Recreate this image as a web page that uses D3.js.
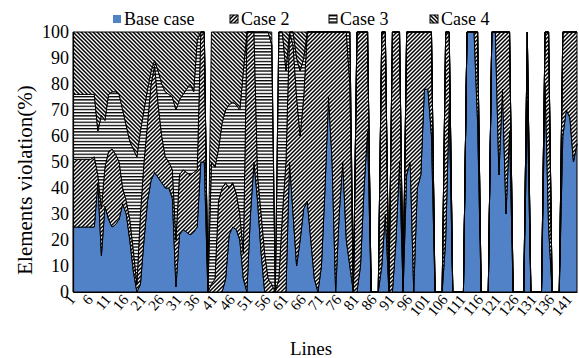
<!DOCTYPE html>
<html>
<head>
<meta charset="utf-8">
<script src="https://cdn.jsdelivr.net/npm/d3@7/dist/d3.min.js"></script>
<style>
  body { margin: 0; background: #fff; }
</style>
</head>
<body>
<div id="chart"></div>
<script>
// line numbers on the x axis
const lines = d3.range(1, 144)

const tickLines = [1, 6, 11, 16, 21, 26, 31, 36, 41, 46, 51, 56, 61, 66, 71, 76, 81, 86, 91, 96, 101, 106, 111, 116, 121, 126, 131, 136, 141]
const yTicks = [0, 10, 20, 30, 40, 50, 60, 70, 80, 90, 100]

const seriesNames = ["Base case", "Case 2", "Case 3", "Case 4"]

// share of violated elements per line (%)
const baseCase = [
  25, 25, 25, 25, 25, 25, 25, 42, 14, 33,
  28, 25, 26, 28, 34, 30, 20, 8, 0, 3,
  20, 35, 43, 46, 44, 42, 40, 40, 36, 2,
  22, 24, 23, 22, 23, 25, 50, 50, 0, 0,
  0, 0, 0, 5, 22, 25, 24, 20, 5, 0,
  30, 50, 35, 15, 0, 0, 0, 0, 0, 0,
  0, 50, 30, 10, 20, 32, 35, 20, 5, 0,
  10, 40, 75, 50, 0, 30, 50, 20, 10, 0,
  0, 10, 40, 62, 0, 0, 0, 10, 30, 0,
  0, 20, 50, 0, 45, 50, 0, 40, 45, 78,
  78, 60, 0, 0, 0, 20, 72, 0, 0, 0,
  0, 100, 100, 100, 65, 0, 0, 0, 100, 100,
  45, 78, 30, 62, 0, 0, 0, 0, 73, 0,
  0, 0, 0, 80, 25, 0, 0, 0, 60, 70,
  67, 50, 57
]

const case2 = [
  26, 26, 26, 26, 26, 26, 27, 3, 18, 15,
  26, 30, 27, 22, 6, 5, 8, 8, 3, 27,
  30, 30, 37, 41, 28, 18, 12, 10, 11, 18,
  23, 23, 23, 23, 23, 22, 50, 50, 0, 3,
  5, 35, 40, 37, 18, 17, 14, 10, 10, 100,
  70, 50, 10, 15, 15, 5, 3, 0, 5, 30,
  50, 50, 65, 65, 40, 43, 65, 80, 95, 100,
  90, 60, 25, 50, 100, 70, 50, 80, 70, 0,
  100, 90, 60, 38, 0, 0, 0, 90, 70, 0,
  100, 80, 50, 0, 55, 50, 100, 60, 55, 22,
  22, 40, 0, 0, 0, 80, 28, 0, 0, 0,
  0, 0, 0, 0, 35, 0, 0, 0, 0, 0,
  55, 22, 70, 38, 0, 0, 0, 0, 27, 0,
  0, 0, 0, 20, 75, 0, 0, 0, 40, 30,
  33, 50, 43
]

const case3 = [
  25, 25, 25, 25, 25, 25, 24, 17, 36, 18,
  22, 22, 24, 26, 30, 29, 30, 39, 49, 32,
  20, 13, 5, 2, 13, 20, 25, 26, 28, 50,
  29, 29, 32, 35, 31, 50, 0, 0, 0, 47,
  43, 20, 25, 28, 32, 31, 34, 40, 70, 0,
  0, 0, 55, 70, 85, 95, 92, 0, 95, 70,
  35, 0, 5, 15, 25, 15, 0, 0, 0, 0,
  0, 0, 0, 0, 0, 0, 0, 0, 20, 0,
  0, 0, 0, 0, 0, 0, 0, 0, 0, 0,
  0, 0, 0, 0, 0, 0, 0, 0, 0, 0,
  0, 0, 0, 0, 0, 0, 0, 0, 0, 0,
  0, 0, 0, 0, 0, 0, 0, 0, 0, 0,
  0, 0, 0, 0, 0, 0, 0, 0, 0, 0,
  0, 0, 0, 0, 0, 0, 0, 0, 0, 0,
  0, 0, 0
]

const case4 = [
  24, 24, 24, 24, 24, 24, 24, 38, 32, 34,
  24, 23, 23, 24, 30, 36, 42, 45, 48, 38,
  30, 22, 15, 11, 15, 20, 23, 24, 25, 30,
  26, 24, 22, 20, 23, 3, 0, 0, 0, 50,
  52, 45, 35, 30, 28, 27, 28, 30, 15, 0,
  0, 0, 0, 0, 0, 0, 5, 0, 0, 0,
  15, 0, 0, 10, 15, 10, 0, 0, 0, 0,
  0, 0, 0, 0, 0, 0, 0, 0, 0, 0,
  0, 0, 0, 0, 0, 0, 0, 0, 0, 0,
  0, 0, 0, 0, 0, 0, 0, 0, 0, 0,
  0, 0, 0, 0, 0, 0, 0, 0, 0, 0,
  0, 0, 0, 0, 0, 0, 0, 0, 0, 0,
  0, 0, 0, 0, 0, 0, 0, 0, 0, 0,
  0, 0, 0, 0, 0, 0, 0, 0, 0, 0,
  0, 0, 0
]

const serif = "'Liberation Serif', 'Times New Roman', Times, serif"

const margin = { top: 32, left: 73 }
const width = 504
const height = 260

const svg = d3.select("#chart")
  .append("svg")
  .attr("width", 579)
  .attr("height", 358)
  .style("font-family", serif)

// fill patterns: forward hatch, horizontal lines, back hatch
const defs = svg.append("defs")

const p2 = defs.append("pattern").attr("id", "hatch2")
  .attr("patternUnits", "userSpaceOnUse").attr("width", 4).attr("height", 4)
p2.append("rect").attr("width", 4).attr("height", 4).attr("fill", "#fff")
p2.append("path").attr("d", "M-1,1 l2,-2 M0,4 l4,-4 M3,5 l2,-2")
  .attr("stroke", "#000").attr("stroke-width", 1.5)

const p3 = defs.append("pattern").attr("id", "hatch3")
  .attr("patternUnits", "userSpaceOnUse").attr("width", 4).attr("height", 3.2)
p3.append("rect").attr("width", 4).attr("height", 3.2).attr("fill", "#fff")
p3.append("rect").attr("width", 4).attr("height", 1.3).attr("fill", "#000")

const p4 = defs.append("pattern").attr("id", "hatch4")
  .attr("patternUnits", "userSpaceOnUse").attr("width", 4).attr("height", 4)
p4.append("rect").attr("width", 4).attr("height", 4).attr("fill", "#fff")
p4.append("path").attr("d", "M-1,3 l2,2 M0,0 l4,4 M3,-1 l2,2")
  .attr("stroke", "#000").attr("stroke-width", 1.5)

const fills = ["#5181c6", "url(#hatch2)", "url(#hatch3)", "url(#hatch4)"]

const rows = lines.map((l, i) => ({
  line: l,
  "Base case": baseCase[i],
  "Case 2": case2[i],
  "Case 3": case3[i],
  "Case 4": case4[i]
}))

const stacked = d3.stack().keys(seriesNames)(rows)

const x = d3.scaleLinear()
  .domain([1, 143])
  .range([0, width])

const y = d3.scaleLinear()
  .domain([0, 100])
  .range([height, 0])

const g = svg.append("g")
  .attr("transform", `translate(${margin.left},${margin.top})`)

const area = d3.area()
  .x(d => x(d.data.line))
  .y0(d => y(d[0]))
  .y1(d => y(d[1]))

g.selectAll(".layer")
  .data(stacked)
  .enter()
  .append("path")
  .attr("class", "layer")
  .attr("d", area)
  .attr("fill", (d, i) => fills[i])
  .attr("stroke", "#000")
  .attr("stroke-width", 1)

// y axis
const yAxis = g.append("g")
  .call(d3.axisLeft(y).tickValues(yTicks).tickSize(0).tickPadding(4))
yAxis.attr("font-family", null).attr("font-size", null)
yAxis.selectAll("text").style("font-size", "18px")
yAxis.select(".domain").attr("stroke", "#000").attr("stroke-width", 1.2)

// x axis line
const xAxis = g.append("g")
  .attr("transform", `translate(0,${height})`)
  .call(d3.axisBottom(x).tickValues(tickLines).tickSize(0).tickFormat(""))
xAxis.select(".domain").attr("stroke", "#000").attr("stroke-width", 1.2)

// slanted tick labels: one group per tick, the text is turned inside it
const xLabels = g.selectAll(".xlabel")
  .data(tickLines)
  .enter()
  .append("g")
  .attr("class", "xlabel")
  .attr("transform", d => `translate(${x(d) + 3},${height + 8})`)

xLabels.append("text")
  .attr("transform", "rotate(-50)")
  .style("text-anchor", "end")
  .style("font-size", "15px")
  .text(d => d)

// axis titles
svg.append("text")
  .attr("transform", "translate(32,180) rotate(-90)")
  .style("text-anchor", "middle")
  .style("font-size", "21px")
  .text("Elements violation(%)")

svg.append("text")
  .attr("x", 311)
  .attr("y", 355)
  .style("text-anchor", "middle")
  .style("font-size", "19px")
  .text("Lines")

// legend
const legendX = [113, 230, 329, 430]
const legend = svg.append("g")
seriesNames.forEach((name, i) => {
  const item = legend.append("g").attr("transform", `translate(${legendX[i]},15)`)
  item.append("rect")
    .attr("width", 8).attr("height", 8)
    .attr("fill", fills[i])
    .attr("stroke", i === 0 ? "none" : "#000")
    .attr("stroke-width", 1)
  item.append("text")
    .attr("x", 11)
    .attr("y", 10)
    .style("font-size", "18px")
    .text(name)
})
</script>
</body>
</html>
